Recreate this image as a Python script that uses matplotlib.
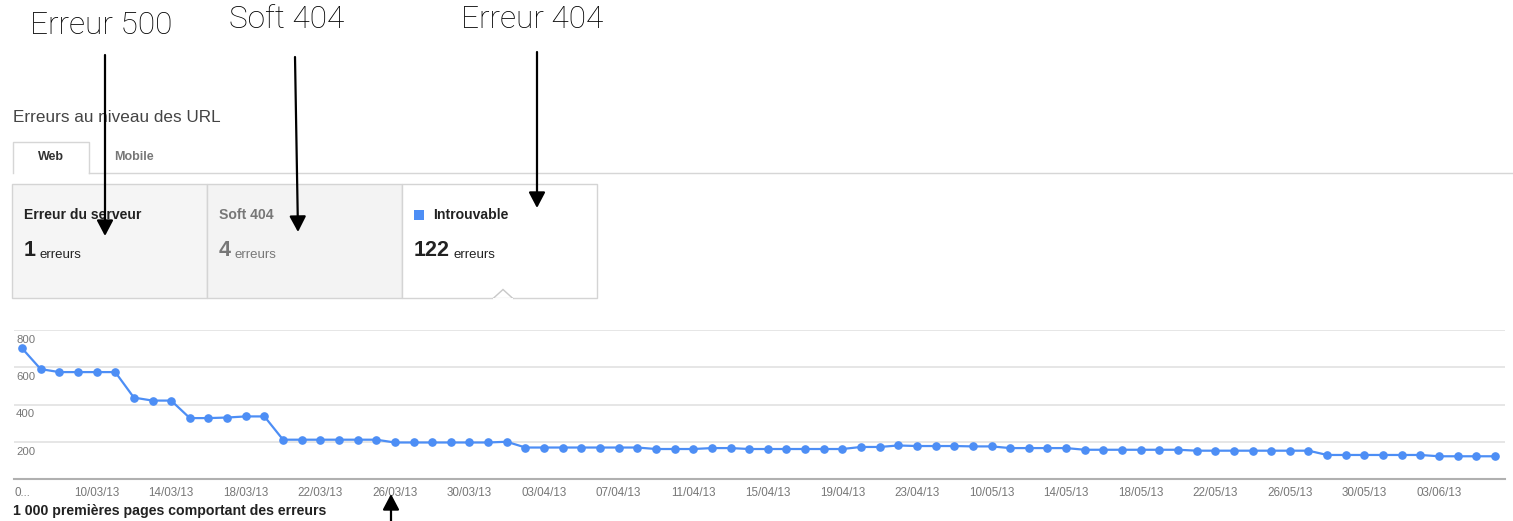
import matplotlib
matplotlib.use("Agg")
import matplotlib.pyplot as plt
from matplotlib.patches import Rectangle, Polygon

# ---------------- data ----------------
errors_404 = [702, 590, 574, 574, 574, 574, 437, 421, 421, 327,
              327, 330, 336, 336, 211, 211, 211, 211, 211, 211,
              196, 196, 196, 196, 196, 196, 200, 169, 169, 169,
              169, 169, 169, 169, 161, 161, 161, 166, 166, 161,
              161, 161, 161, 161, 161, 172, 172, 180, 177, 177,
              177, 175, 175, 166, 166, 166, 166, 157, 157, 157,
              157, 157, 157, 152, 152, 152, 152, 152, 152, 152,
              129, 129, 129, 129, 129, 129, 122, 122, 122, 122]
tick_index = [0, 4, 8, 12, 16, 20, 24, 28, 32, 36, 40, 44, 48, 52, 56, 60, 64, 68, 72, 76]
tick_labels = ["0...", "10/03/13", "14/03/13", "18/03/13", "22/03/13", "26/03/13",
               "30/03/13", "03/04/13", "07/04/13", "11/04/13", "15/04/13", "19/04/13",
               "23/04/13", "10/05/13", "14/05/13", "18/05/13", "22/05/13", "26/05/13",
               "30/05/13", "03/06/13"]
y_ticks = [200, 400, 600, 800]
categories = ["Erreur du serveur", "Soft 404", "Introuvable"]
counts = [1, 4, 122]
callouts = ["Erreur 500", "Soft 404", "Erreur 404"]

W, H = 1513, 521
BLUE = "#4d8ef5"
UI = "Liberation Sans"

fig = plt.figure(figsize=(W / 100, H / 100), dpi=100)
fig.patch.set_facecolor("white")

# ---------------- chart ----------------
L, R, T, B = 14, 1505, 330, 479
ax = fig.add_axes([L / W, 1 - B / H, (R - L) / W, (B - T) / H])
x = list(range(len(errors_404)))
ax.plot(x, errors_404, color=BLUE, lw=1.6, marker="o", ms=5.2, mec=BLUE, mfc=BLUE, zorder=3)
ax.set_xlim(-0.43, len(errors_404) - 1 + 0.54)
ax.set_ylim(0, 800)
ax.set_yticks(y_ticks)
ax.set_yticklabels([])
ax.grid(axis="y", color="#e6e6e6", lw=1.4)
ax.set_axisbelow(True)
for s in ["top", "right", "left"]:
    ax.spines[s].set_visible(False)
ax.spines["bottom"].set_color("#b0b0b0")
ax.spines["bottom"].set_linewidth(1.5)
ax.tick_params(axis="y", length=0)
ax.set_xticks(tick_index)
ax.set_xticklabels(tick_labels, fontsize=8.4, color="#777777", family=UI)
ax.tick_params(axis="x", length=0, pad=5.5)
for yt in y_ticks:
    ax.annotate(str(yt), xy=(0, yt), xycoords=("axes fraction", "data"),
                xytext=(1.5, -3.5), textcoords="offset points", ha="left", va="top",
                fontsize=8.2, color="#777777", family=UI)

# ---------------- overlay (pixel coordinates) ----------------
ov = fig.add_axes([0, 0, 1, 1], zorder=5)
ov.set_xlim(0, W)
ov.set_ylim(H, 0)
ov.axis("off")
ov.patch.set_alpha(0)

ov.text(13, 118, "Erreurs au niveau des URL", fontsize=12.3, color="#444444",
        family=UI, va="center", ha="left")

# tabs
ov.plot([13, 13, 89, 89], [173, 142, 142, 173], color="#d6d6d6", lw=1)
ov.plot([89, W], [172.5, 172.5], color="#d6d6d6", lw=1)
ov.text(51, 157, "Web", fontsize=9, weight="bold", color="#333333", family=UI,
        ha="center", va="center")
ov.text(134, 157, "Mobile", fontsize=9, weight="bold", color="#777777", family=UI,
        ha="center", va="center")

# category boxes
box_x = [12, 207, 402]
box_fc = ["#f5f5f5", "#f3f3f3", "#ffffff"]
title_col = ["#222222", "#777777", "#222222"]
num_col = ["#222222", "#777777", "#222222"]
for i, (cat, n) in enumerate(zip(categories, counts)):
    bx = box_x[i]
    ov.add_patch(Rectangle((bx, 184), 195, 114, facecolor=box_fc[i],
                           edgecolor="#d4d4d4", lw=1, zorder=1))
    tx = bx + 12
    if i == 2:
        ov.add_patch(Rectangle((bx + 12, 210), 10, 10, facecolor=BLUE, edgecolor="none", zorder=2))
        tx = bx + 31
    ov.text(tx, 215, cat, fontsize=10.1, weight="bold", color=title_col[i], family=UI,
            ha="left", va="center", zorder=3)
    t = ov.text(bx + 12, 256, str(n), fontsize=15.5, weight="bold", color=num_col[i],
                family=UI, ha="left", va="baseline", zorder=3)
    ov.annotate("erreurs", xy=(1, 0), xycoords=t, xytext=(2.5, 0), textcoords="offset points",
                fontsize=9.5, color=num_col[i], family=UI, ha="left", va="bottom", zorder=3)

# caret under active box
ov.add_patch(Polygon([(493, 298.6), (503, 289.5), (513, 298.6)], closed=True,
                     facecolor="white", edgecolor="#c8c8c8", lw=1, zorder=4))
ov.plot([493.8, 512.2], [298.5, 298.5], color="white", lw=1.4, zorder=4)

# bottom caption
ov.text(13, 511, "1 000 premières pages comportant des erreurs", fontsize=10.2,
        weight="bold", color="#222222", family=UI, ha="left", va="center")

# callouts
callout_pos = [(101, 25), (287, 20), (532, 20)]
for txt, (cx, cy) in zip(callouts, callout_pos):
    ov.text(cx, cy, txt, fontsize=22.8, color="#000000", family="Roboto", weight="light",
            ha="center", va="center")

arrows = [((105, 55), (105, 236)), ((295, 57), (298, 232)),
          ((537, 52), (537, 208)), ((391, 521), (391, 494))]
for (x0, y0), (x1, y1) in arrows:
    ov.annotate("", xy=(x1, y1), xytext=(x0, y0),
                arrowprops=dict(arrowstyle="-|>,head_length=0.95,head_width=0.5",
                                color="black", lw=1.6, shrinkA=0, shrinkB=0),
                zorder=6)

fig.savefig("out.png", dpi=100, facecolor="white")
